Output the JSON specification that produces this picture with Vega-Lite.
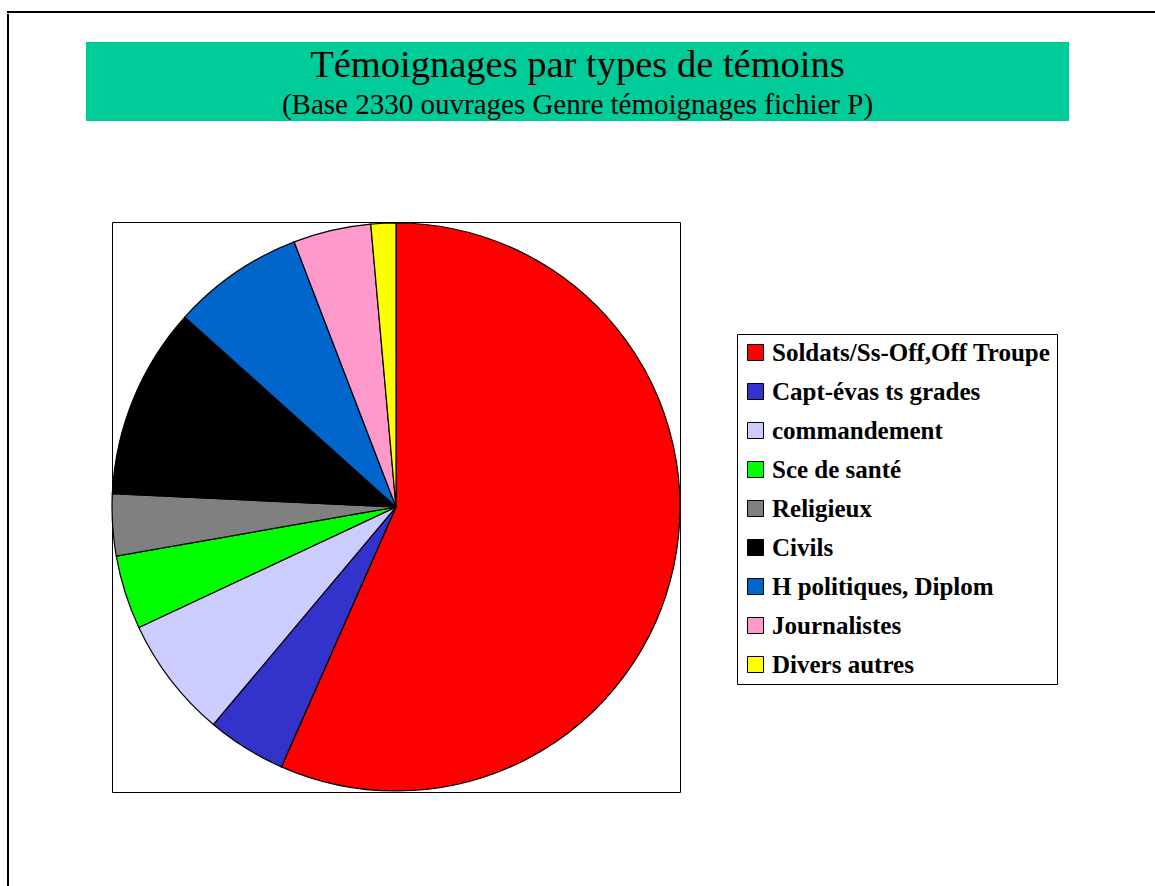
{
  "$schema": "https://vega.github.io/schema/vega-lite/v6.json",
  "padding": {"left": 7, "top": 11, "right": 0, "bottom": 0},
  "background": "white",
  "config": {"view": {"stroke": null}},
  "spacing": 0,
  "vconcat": [
    {
      "width": 1300,
      "height": 0.001,
      "view": {"stroke": "black", "strokeWidth": 2, "fill": null},
      "data": {"values": []},
      "mark": "point",
      "encoding": {}
    },
    {
      "spacing": 76,
      "hconcat": [
        {
          "width": 0.001,
          "height": 1000,
          "view": {"stroke": "black", "strokeWidth": 2, "fill": null},
          "data": {"values": []},
          "mark": "point",
          "encoding": {}
        },
        {
          "spacing": 17,
          "vconcat": [
            {
              "width": 10,
              "height": 10,
              "data": {"values": []},
              "mark": "point",
              "encoding": {}
            },
            {
              "spacing": 99,
              "vconcat": [
                {
                  "width": 983,
                  "height": 79,
                  "view": {"fill": "#00CC99", "stroke": null},
                  "title": {
                    "text": "Témoignages par types de témoins",
                    "subtitle": "(Base 2330 ouvrages Genre témoignages fichier P)",
                    "font": "Liberation Serif",
                    "subtitleFont": "Liberation Serif",
                    "fontSize": 38.5,
                    "subtitleFontSize": 29,
                    "fontWeight": "normal",
                    "color": "black",
                    "subtitleColor": "black",
                    "anchor": "middle",
                    "offset": -79,
                    "subtitlePadding": 6
                  },
                  "data": {"values": []},
                  "mark": "point",
                  "encoding": {}
                },
                {
                  "spacing": 13,
                  "hconcat": [
                    {
                      "width": 10,
                      "height": 10,
                      "data": {"values": []},
                      "mark": "point",
                      "encoding": {}
                    },
                    {
                      "width": 568,
                      "height": 570,
                      "view": {"stroke": "black", "strokeWidth": 1, "fill": "white"},
                      "data": {
                        "values": [
                          {"type": "Soldats/Ss-Off,Off Troupe", "value": 1319, "ord": 1},
                          {"type": "Capt-évas ts grades", "value": 105, "ord": 2},
                          {"type": "commandement", "value": 161, "ord": 3},
                          {"type": "Sce de santé", "value": 98, "ord": 4},
                          {"type": "Religieux", "value": 82, "ord": 5},
                          {"type": "Civils", "value": 254, "ord": 6},
                          {"type": "H politiques, Diplom", "value": 175, "ord": 7},
                          {"type": "Journalistes", "value": 103, "ord": 8},
                          {"type": "Divers autres", "value": 33, "ord": 9}
                        ]
                      },
                      "mark": {"type": "arc", "stroke": "black", "strokeWidth": 1.2},
                      "encoding": {
                        "theta": {"field": "value", "type": "quantitative", "stack": true},
                        "order": {"field": "ord", "type": "quantitative"},
                        "color": {
                          "field": "type",
                          "type": "nominal",
                          "scale": {
                            "domain": ["Soldats/Ss-Off,Off Troupe", "Capt-évas ts grades", "commandement", "Sce de santé", "Religieux", "Civils", "H politiques, Diplom", "Journalistes", "Divers autres"],
                            "range": ["#FF0000", "#3333CC", "#CCCCFF", "#00FF00", "#808080", "#000000", "#0066CC", "#FF99CC", "#FFFF00"]
                          },
                          "legend": {
                            "orient": "none",
                            "legendX": 729,
                            "legendY": 322,
                            "title": null,
                            "strokeColor": "black",
                            "fillColor": "white",
                            "padding": 6,
                            "symbolType": "square",
                            "symbolSize": 256,
                            "symbolStrokeColor": "black",
                            "symbolStrokeWidth": 1,
                            "symbolOpacity": 1,
                            "labelFont": "Liberation Serif",
                            "labelFontWeight": "bold",
                            "labelFontSize": 25,
                            "labelColor": "black",
                            "labelOffset": 4,
                            "labelLimit": 500,
                            "rowPadding": 13
                          }
                        }
                      }
                    }
                  ]
                }
              ]
            }
          ]
        }
      ]
    }
  ]
}
